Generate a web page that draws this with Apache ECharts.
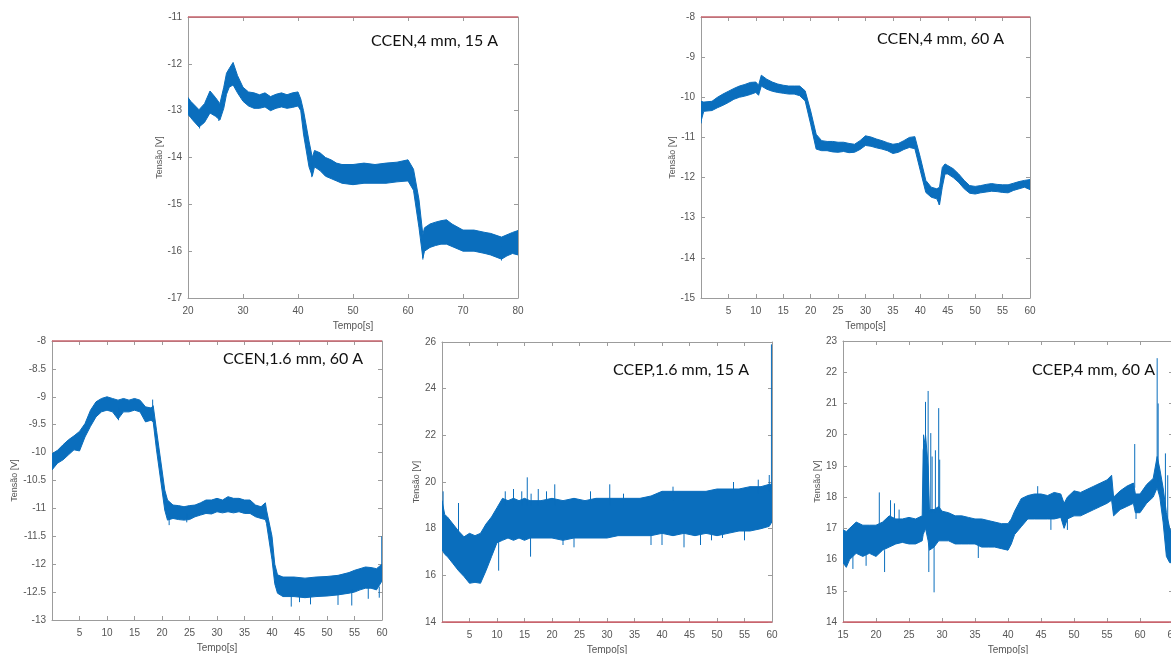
<!DOCTYPE html>
<html>
<head>
<meta charset="utf-8">
<script src="https://cdn.jsdelivr.net/npm/echarts@6/dist/echarts.min.js"></script>
<style>
html,body{margin:0;padding:0;background:#fff;}
#chart{width:1171px;height:654px;}
</style>
</head>
<body>
<div id="chart"></div>
<script>
// ---------- DATA ----------
// Panel 1: CCEN, 4 mm, 15 A
const p1Time = [20,20.5,21,22,23,24,25,25.8,26.5,27,27.5,28.2,29,30,31,32,33,34,35,36,37,38,39,40,40.5,41,42,42.6,43,44,45,46,47,48,50,52,54,56,58,60,61,62,62.7,63,64,65,66,67,68,70,72,74,75,77,78,79,80];
const p1Low  = [-13.08,-13.15,-13.22,-13.35,-13.25,-13.05,-13.12,-13.2,-12.95,-12.65,-12.5,-12.45,-12.62,-12.8,-12.9,-12.95,-12.95,-12.92,-13.0,-12.95,-12.92,-12.95,-12.93,-12.9,-13.0,-13.5,-14.2,-14.4,-14.2,-14.28,-14.4,-14.45,-14.5,-14.55,-14.58,-14.55,-14.55,-14.55,-14.52,-14.5,-14.7,-15.5,-16.15,-16.0,-15.92,-15.88,-15.85,-15.85,-15.9,-16.0,-16.0,-16.05,-16.08,-16.17,-16.1,-16.05,-16.08];
const p1High = [-12.72,-12.8,-12.86,-12.98,-12.85,-12.58,-12.72,-12.85,-12.5,-12.2,-12.1,-11.97,-12.25,-12.5,-12.6,-12.62,-12.66,-12.62,-12.7,-12.65,-12.62,-12.66,-12.62,-12.6,-12.75,-13.0,-13.65,-14.0,-13.85,-13.9,-14.0,-14.05,-14.12,-14.15,-14.15,-14.12,-14.15,-14.12,-14.1,-14.05,-14.25,-14.9,-15.65,-15.5,-15.42,-15.38,-15.35,-15.33,-15.42,-15.55,-15.55,-15.6,-15.62,-15.7,-15.65,-15.6,-15.56];
const p1Spikes = [[22.1,-13.2,-13.38],[25.6,-13.0,-13.22],[42.5,-14.1,-14.42],[62.7,-15.8,-16.18],[77,-15.9,-16.2]];

// Panel 2: CCEN, 4 mm, 60 A
const p2Time = [0,0.5,2,3,4,5,6,7,8,9,10,10.5,11,12,13,14,15,16,17,18,19,20,21,22,23,24,25,26,27,28,29,30,31,32,33,34,35,36,37,38,39,40,41,42,43,43.5,44,44.5,45,46,47,48,49,50,51,52,53,54,55,56,57,58,59,60];
const p2Low  = [-10.6,-10.35,-10.33,-10.26,-10.2,-10.13,-10.05,-10.0,-9.97,-9.93,-9.88,-9.95,-9.72,-9.8,-9.85,-9.88,-9.9,-9.92,-9.92,-9.96,-10.09,-10.67,-11.29,-11.33,-11.33,-11.36,-11.37,-11.35,-11.38,-11.37,-11.3,-11.2,-11.22,-11.26,-11.29,-11.33,-11.4,-11.37,-11.3,-11.25,-11.28,-11.83,-12.37,-12.49,-12.53,-12.68,-12.24,-11.91,-11.91,-12.0,-12.12,-12.28,-12.39,-12.41,-12.38,-12.36,-12.34,-12.35,-12.37,-12.38,-12.32,-12.28,-12.24,-12.3];
const p2High = [-10.1,-10.12,-10.1,-10.0,-9.92,-9.85,-9.78,-9.72,-9.68,-9.63,-9.62,-9.7,-9.45,-9.55,-9.62,-9.67,-9.7,-9.72,-9.72,-9.72,-9.84,-10.34,-10.92,-11.08,-11.1,-11.1,-11.12,-11.12,-11.15,-11.17,-11.08,-10.96,-10.99,-11.04,-11.08,-11.13,-11.17,-11.15,-11.08,-11.0,-10.98,-11.5,-12.07,-12.24,-12.28,-12.24,-11.75,-11.66,-11.7,-11.78,-11.91,-12.07,-12.2,-12.22,-12.2,-12.17,-12.15,-12.17,-12.18,-12.18,-12.14,-12.1,-12.07,-12.05];
const p2Spikes = [[0.05,-10.2,-10.65],[43.4,-12.4,-12.68]];

// Panel 3: CCEN, 1.6 mm, 60 A
const p3Time = [0,1,2,3,4,5,6,7,8,9,10,11,12,13,14,15,16,17,18,18.4,19,20,20.5,21,22,23,24,25,26,27,28,29,30,31,32,33,34,35,36,37,38,38.8,39,40,40.5,41,42,44,46,48,50,52,54,55,56,57,58,59,60];
const p3Low  = [-10.31,-10.19,-10.13,-10.04,-9.95,-9.97,-9.72,-9.53,-9.36,-9.27,-9.24,-9.27,-9.4,-9.27,-9.27,-9.24,-9.27,-9.45,-9.42,-9.45,-9.95,-10.67,-11.03,-11.21,-11.18,-11.2,-11.21,-11.2,-11.15,-11.12,-11.09,-11.1,-11.06,-11.08,-11.06,-11.08,-11.06,-11.09,-11.09,-11.15,-11.18,-11.2,-11.27,-11.92,-12.35,-12.52,-12.58,-12.58,-12.6,-12.58,-12.57,-12.55,-12.52,-12.5,-12.46,-12.43,-12.43,-12.46,-12.3];
const p3High = [-10.02,-9.96,-9.86,-9.77,-9.7,-9.62,-9.48,-9.24,-9.09,-9.03,-9.0,-9.03,-9.06,-9.03,-9.06,-9.03,-9.06,-9.18,-9.2,-9.16,-9.6,-10.31,-10.67,-10.85,-10.94,-10.95,-10.97,-10.95,-10.94,-10.9,-10.85,-10.85,-10.82,-10.85,-10.79,-10.82,-10.82,-10.85,-10.85,-10.94,-10.97,-10.9,-11.03,-11.5,-12.0,-12.19,-12.23,-12.23,-12.25,-12.23,-12.22,-12.2,-12.15,-12.11,-12.08,-12.05,-12.06,-12.08,-12.0];
const p3Spikes = [[12.1,-9.2,-9.42],[18.3,-9.2,-9.05],[21.3,-11.1,-11.3],[24.5,-11.1,-11.25],[43.5,-12.5,-12.76],[45,-12.5,-12.68],[47,-12.5,-12.72],[52,-12.5,-12.73],[54.5,-12.45,-12.74],[57.5,-12.4,-12.62],[59.5,-12.4,-12.6],[59.95,-12.2,-11.5]];

// Panel 4: CCEP, 1.6 mm, 15 A
const p4Time = [0,0.5,1,2,3,4,5,6,7,8,9,10,11,12,13,14,15,16,18,20,22,24,26,28,30,32,34,36,38,40,42,44,46,48,50,52,54,56,58,59.5,60];
const p4Low  = [17.1,16.9,16.8,16.5,16.2,15.95,15.66,15.7,15.66,16.2,16.8,17.4,17.5,17.6,17.5,17.6,17.5,17.6,17.6,17.6,17.5,17.6,17.6,17.6,17.6,17.7,17.7,17.7,17.7,17.8,17.7,17.8,17.7,17.8,17.7,17.8,17.9,17.9,18.0,18.1,18.3];
const p4High = [19.2,18.6,18.5,18.2,17.9,17.65,17.8,17.7,17.8,18.2,18.5,18.9,19.3,19.2,19.3,19.2,19.3,19.2,19.2,19.3,19.2,19.3,19.2,19.3,19.3,19.3,19.3,19.3,19.4,19.6,19.6,19.6,19.6,19.6,19.7,19.7,19.7,19.8,19.8,19.9,19.9];
const p4Spikes = [[0.2,18.5,19.6],[3,17.5,19.1],[10.3,17.5,16.2],[11.5,19,19.6],[13,19,19.7],[14.5,19,19.6],[15.5,19,20.2],[16.1,17.6,16.8],[16.2,19,19.5],[17.5,19,19.7],[19,19,19.6],[20.5,19,19.9],[22,17.6,17.3],[24,17.6,17.2],[27,19,19.6],[30.5,19,19.9],[33,19,19.5],[38,17.8,17.3],[40,17.8,17.3],[42,19.2,19.8],[44,17.8,17.2],[47,17.8,17.3],[49,17.9,17.5],[51,17.9,17.6],[53,19.4,20.0],[55,17.9,17.5],[57.5,19.5,20.1],[59.5,19.6,20.3],[59.9,19.5,25.9]];

// Panel 5: CCEP, 4 mm, 60 A
const p5Time = [15,15.5,16,17,18,19,20,21,22,23,24,25,26,27,27.15,27.5,27.9,28.1,28.8,29.5,30,31,32,33,34,35,36,37,38,39,40,40.5,41,42,43,44,45,46,47,48,48.5,49,50,51,52,53,54,55,55.7,56,57,58,59,59.3,60,61,62,62.6,63,63.5,64,64.5,65];
const p5Low  = [15.9,15.75,16.0,16.2,16.1,16.2,16.1,16.3,16.4,16.5,16.55,16.5,16.5,16.6,16.8,17.0,16.6,16.3,16.4,16.6,16.6,16.6,16.5,16.5,16.5,16.5,16.4,16.4,16.4,16.35,16.3,16.5,16.8,17.05,17.3,17.3,17.3,17.3,17.3,17.35,17.0,17.3,17.4,17.4,17.5,17.6,17.7,17.8,17.9,17.4,17.6,17.7,17.8,17.5,17.5,17.8,18.0,18.3,18.0,17.2,16.1,15.9,15.9];
const p5High = [16.95,16.9,17.0,17.2,17.1,17.1,17.1,17.2,17.4,17.3,17.3,17.35,17.3,17.4,19.5,20.0,19.0,17.6,17.6,17.7,17.55,17.5,17.4,17.4,17.35,17.3,17.3,17.25,17.2,17.15,17.15,17.3,17.55,17.95,18.05,18.1,18.1,18.05,18.15,18.1,17.8,18.0,18.2,18.15,18.25,18.35,18.45,18.55,18.7,18.0,18.2,18.35,18.45,18.1,18.1,18.4,18.6,19.3,18.9,18.3,17.5,17.0,16.8];
const p5Spikes = [[16.5,16.2,15.7],[18.5,16.2,15.8],[20.5,17.0,18.15],[21.3,16.3,15.6],[22.2,17.3,17.9],[22.8,17.3,17.8],[23.5,17.2,17.6],[27.2,17.5,20.0],[27.5,17.5,21.05],[27.9,17.5,21.4],[28.0,16.5,15.6],[28.3,17.5,20.05],[28.5,17.5,19.3],[28.8,16.5,14.95],[29.0,17.5,19.5],[29.5,17.5,20.85],[29.65,17.5,19.2],[35.5,16.5,16.05],[44.5,18.0,18.35],[46.5,17.4,16.95],[49,17.4,16.95],[59.2,18.3,19.7],[59.4,17.6,17.3],[62.6,18.8,22.45],[62.75,18.5,21.0],[63.85,17.5,19.4],[64.2,17.0,18.7]];

// Axis ranges and labels
const xRanges = [[20,80,10],[0,60,5],[0,60,5],[0,60,5],[15,65,5]];
const yRanges = [[-17,-11,1],[-15,-8,1],[-13,-8,0.5],[14,26,2],[14,23,1]];
const panelTitles = ['CCEN,4 mm, 15 A','CCEN,4 mm, 60 A','CCEN,1.6 mm, 60 A','CCEP,1.6 mm, 15 A','CCEP,4 mm, 60 A'];
const xName = 'Tempo[s]';
const yName = 'Tensão [V]';

// ---------- LAYOUT / STYLE ----------
const BLUE = '#0a6ebd';
const GRAY = '#9c9c9c';
const RED = '#c8646e';
const LABEL = '#555555';
const FONT = 'Liberation Sans, Arial, sans-serif';
const layout = [
  {left:188, top:17, width:330, height:281, yGap:22, redTop:true},
  {left:701, top:17, width:329, height:281, yGap:22, redTop:true},
  {left:52,  top:341, width:330, height:279, yGap:26, redTop:true},
  {left:442, top:342, width:330, height:280, yGap:18, redTop:false},
  {left:843, top:341, width:330, height:281, yGap:17, redTop:false}
];
const textPos = [[371,33],[877,31],[223,351],[613,362],[1032,362]];

const bands = [
  [p1Time,p1Low,p1High],[p2Time,p2Low,p2High],[p3Time,p3Low,p3High],
  [p4Time,p4Low,p4High],[p5Time,p5Low,p5High]
];
const spikes = [p1Spikes,p2Spikes,p3Spikes,p4Spikes,p5Spikes];

function makeBandRender(t, lo, hi) {
  return function (params, api) {
    const pts = [];
    for (let k = 0; k < t.length; k++) pts.push(api.coord([t[k], hi[k]]));
    for (let k = t.length - 1; k >= 0; k--) pts.push(api.coord([t[k], lo[k]]));
    return {type:'polygon', shape:{points:pts},
            style:{fill:BLUE, stroke:BLUE, lineWidth:1, lineJoin:'round'}};
  };
}
function renderSpike(params, api) {
  const a = api.coord([api.value(0), api.value(1)]);
  const b = api.coord([api.value(0), api.value(2)]);
  return {type:'line', shape:{x1:a[0], y1:a[1], x2:b[0], y2:b[1]},
          style:{stroke:BLUE, lineWidth:1}};
}

const grid = [], xAxis = [], yAxis = [], series = [], graphic = [];
const tick = {show:true, inside:true, length:4, lineStyle:{color:GRAY, width:1}};
const labelStyle = {color:LABEL, fontSize:10, fontFamily:FONT};

layout.forEach((L, i) => {
  grid.push({left:L.left, top:L.top, width:L.width, height:L.height,
             containLabel:false, outerBoundsMode:'none'});
  const [xmin,xmax,xint] = xRanges[i];
  const [ymin,ymax,yint] = yRanges[i];
  const botColor = L.redTop ? GRAY : RED;
  xAxis.push({
    type:'value', gridIndex:i, position:'bottom', min:xmin, max:xmax, interval:xint,
    axisLine:{show:true, onZero:false, lineStyle:{color:botColor, width:1}},
    axisTick:tick, splitLine:{show:false},
    axisLabel:Object.assign({margin:8, showMinLabel:true, showMaxLabel:true,
      formatter: v => v === 0 ? '' : String(v)}, labelStyle),
    name:xName, nameLocation:'middle', nameGap:23,
    nameTextStyle:{color:LABEL, fontSize:10, fontFamily:FONT}
  });
  xAxis.push({
    type:'value', gridIndex:i, position:'top', min:xmin, max:xmax, interval:xint,
    axisLine:{show:true, onZero:false, lineStyle:{color:GRAY, width:1}},
    axisTick:tick, axisLabel:{show:false}, splitLine:{show:false}
  });
  yAxis.push({
    type:'value', gridIndex:i, position:'left', min:ymin, max:ymax, interval:yint,
    axisLine:{show:true, onZero:false, lineStyle:{color:GRAY, width:1}},
    axisTick:tick, splitLine:{show:false},
    axisLabel:Object.assign({margin:6, showMinLabel:true, showMaxLabel:true}, labelStyle),
    name:yName, nameLocation:'middle', nameGap:L.yGap,
    nameTextStyle:{color:LABEL, fontSize:9, fontFamily:FONT}
  });
  yAxis.push({
    type:'value', gridIndex:i, position:'right', min:ymin, max:ymax, interval:yint,
    axisLine:{show:true, onZero:false, lineStyle:{color:GRAY, width:1}},
    axisTick:tick, axisLabel:{show:false}, splitLine:{show:false}
  });
  const [t, lo, hi] = bands[i];
  series.push({
    type:'custom', coordinateSystem:'cartesian2d', xAxisIndex:2*i, yAxisIndex:2*i,
    clip:true, renderItem:makeBandRender(t, lo, hi), data:[[t[0], lo[0], hi[0]]],
    encode:{x:[0], y:[1,2]}, silent:true, animation:false
  });
  series.push({
    type:'custom', coordinateSystem:'cartesian2d', xAxisIndex:2*i, yAxisIndex:2*i,
    clip:true, renderItem:renderSpike, data:spikes[i],
    encode:{x:[0], y:[1,2]}, silent:true, animation:false
  });
  // red frame edge (top for the CCEN panels, bottom for CCEP)
  series.push({
    type:'line', xAxisIndex:2*i, yAxisIndex:2*i, data:[], clip:false, silent:true,
    animation:false, z:10,
    markLine:{silent:true, symbol:['none','none'], animation:false,
      label:{show:false},
      lineStyle:{color:RED, width:1.5, type:'solid'},
      data:[{yAxis: L.redTop ? ymax : ymin}]}
  });
  graphic.push({
    type:'text', left:textPos[i][0], top:textPos[i][1], z:100,
    style:{text:panelTitles[i], font:'16px Lato, "Open Sans", sans-serif', fill:'#111111'}
  });
});

const chart = echarts.init(document.getElementById('chart'), null, {renderer:'canvas'});
chart.setOption({
  backgroundColor:'#ffffff',
  animation:false,
  grid, xAxis, yAxis, series, graphic
});
</script>
</body>
</html>
